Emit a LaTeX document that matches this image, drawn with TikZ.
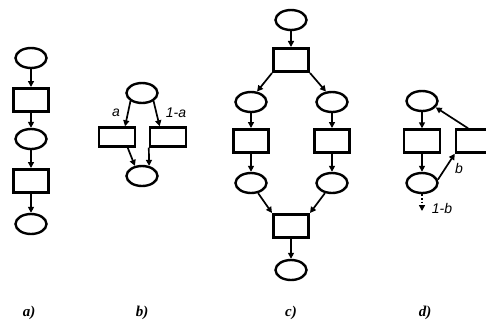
\documentclass[tikz,border=0pt]{standalone}
\usepackage{fontspec}
\setmainfont{Liberation Serif}
\newfontfamily\labelfont{Liberation Sans}
\usetikzlibrary{shapes.geometric,arrows.meta}
\begin{document}
\begin{tikzpicture}[x=1pt,y=-1pt,
  place/.style={ellipse,draw,line width=2.4pt,minimum width=31pt,minimum height=20pt,inner sep=0pt},
  trans/.style={rectangle,draw,line width=3pt,minimum width=35pt,minimum height=23pt,inner sep=0pt},
  transthin/.style={trans,line width=2.4pt,minimum width=36pt,minimum height=19pt},
  arc/.style={line width=1.7pt,-{Triangle[length=6pt,width=6pt]}},
  weight/.style={font=\labelfont\itshape\fontsize{14}{14}\selectfont,inner sep=0pt},
  caption/.style={font=\bfseries\itshape\fontsize{15}{15}\selectfont,inner sep=0pt}]
\useasboundingbox[fill=white] (0,0) rectangle (486,321);
\clip (0,0) rectangle (486,321);

% a) sequence
\node[place] (a1) at (31,58) {};
\node[trans] (a2) at (31,100) {};
\node[place] (a3) at (31,139) {};
\node[trans] (a4) at (31,181) {};
\node[place] (a5) at (31,224) {};
\draw[arc] (a1) -- (a2);
\draw[arc] (a2) -- (a3);
\draw[arc] (a3) -- (a4);
\draw[arc] (a4) -- (a5);

% b) conflict with weights
\node[place] (b1) at (142,93) {};
\node[transthin] (b2) at (117,137) {};
\node[transthin] (b3) at (168,137) {};
\node[place] (b4) at (142,176) {};
\draw[arc] (b1.215) -- (b2.53);
\draw[arc] (b1.325) -- (b3.128);
\draw[arc] (b2.315) -- (b4.125);
\draw[arc] (b3.south west) -- (b4.55);
\node[weight] (wa) at (116,113) {a};
\node[weight] (wna) at (176,113) {1-a};

% c) fork and join
\node[place] (c1) at (291,20) {};
\node[trans] (c2) at (291,60) {};
\node[place] (c3) at (251,102) {};
\node[place] (c4) at (332,102) {};
\node[trans] (c5) at (251,141) {};
\node[trans] (c6) at (332,141) {};
\node[place] (c7) at (251,183) {};
\node[place] (c8) at (332,183) {};
\node[trans] (c9) at (291,226) {};
\node[place] (c10) at (291,270) {};
\draw[arc] (c1) -- (c2);
\draw[arc] (c2.south west) -- (c3.60);
\draw[arc] (c2.south east) -- (c4.120);
\draw[arc] (c3) -- (c5);
\draw[arc] (c4) -- (c6);
\draw[arc] (c5) -- (c7);
\draw[arc] (c6) -- (c8);
\draw[arc] (c7.305) -- (c9.north west);
\draw[arc] (c8.235) -- (c9.north east);
\draw[arc] (c9) -- (c10);

% d) loop with weights
\node[place] (d1) at (422,101) {};
\node[trans,line width=2.4pt,minimum width=36pt] (d2) at (422,141) {};
\node[trans,line width=2.4pt,minimum width=36pt] (d3) at (474,141) {};
\node[place] (d4) at (422,183) {};
\coordinate (dout) at (422,211);
\draw[arc] (d1) -- (d2);
\draw[arc] (d2) -- (d4);
\draw[arc] (d3.115) -- (d1.335);
\draw[arc] (d4.12) -- (d3.south west);
\draw[arc,dotted,line width=1.5pt] (d4) -- (dout);
\node[weight] (wb) at (459,168) {b};
\node[weight] (wnb) at (442,208) {1-b};

% captions
\node[caption] (la) at (29,313) {a)};
\node[caption] (lb) at (142,313) {b)};
\node[caption] (lc) at (291,313) {c)};
\node[caption] (ld) at (425,313) {d)};
\end{tikzpicture}
\end{document}
